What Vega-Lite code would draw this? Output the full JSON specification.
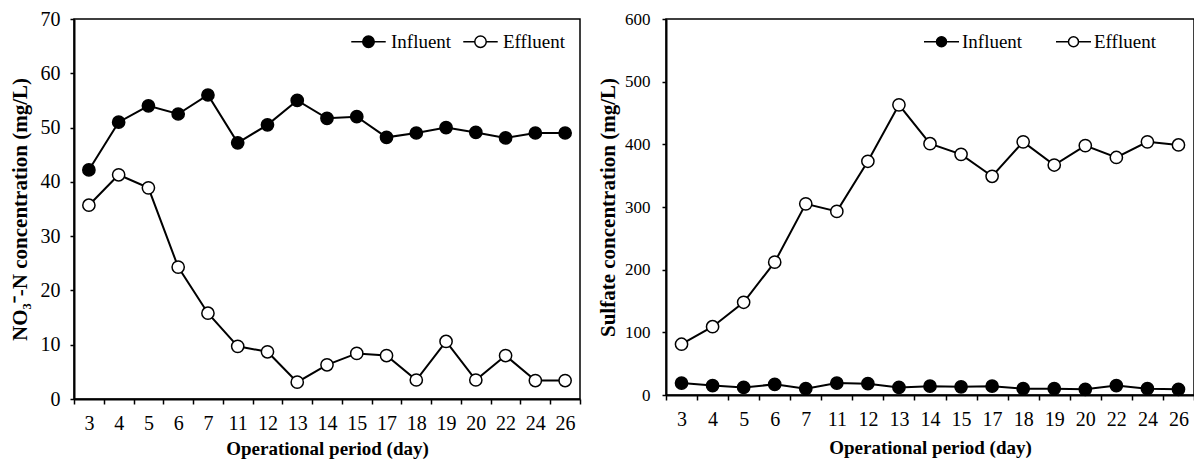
{
  "$schema": "https://vega.github.io/schema/vega-lite/v6.json",
  "padding": {"left": 8, "top": 8, "right": 2, "bottom": 2},
  "background": "white",
  "datasets": {
    "nitrate": [
      {"day": 3, "type": "Influent", "value": 42.2}, {"day": 4, "type": "Influent", "value": 51.0},
      {"day": 5, "type": "Influent", "value": 54.0}, {"day": 6, "type": "Influent", "value": 52.5},
      {"day": 7, "type": "Influent", "value": 56.0}, {"day": 11, "type": "Influent", "value": 47.2},
      {"day": 12, "type": "Influent", "value": 50.5}, {"day": 13, "type": "Influent", "value": 55.0},
      {"day": 14, "type": "Influent", "value": 51.7}, {"day": 15, "type": "Influent", "value": 52.0},
      {"day": 17, "type": "Influent", "value": 48.2}, {"day": 18, "type": "Influent", "value": 49.0},
      {"day": 19, "type": "Influent", "value": 50.0}, {"day": 20, "type": "Influent", "value": 49.1},
      {"day": 22, "type": "Influent", "value": 48.1}, {"day": 24, "type": "Influent", "value": 49.0},
      {"day": 26, "type": "Influent", "value": 49.0},
      {"day": 3, "type": "Effluent", "value": 35.7}, {"day": 4, "type": "Effluent", "value": 41.3},
      {"day": 5, "type": "Effluent", "value": 38.9}, {"day": 6, "type": "Effluent", "value": 24.3},
      {"day": 7, "type": "Effluent", "value": 15.8}, {"day": 11, "type": "Effluent", "value": 9.7},
      {"day": 12, "type": "Effluent", "value": 8.7}, {"day": 13, "type": "Effluent", "value": 3.1},
      {"day": 14, "type": "Effluent", "value": 6.3}, {"day": 15, "type": "Effluent", "value": 8.4},
      {"day": 17, "type": "Effluent", "value": 8.0}, {"day": 18, "type": "Effluent", "value": 3.5},
      {"day": 19, "type": "Effluent", "value": 10.6}, {"day": 20, "type": "Effluent", "value": 3.5},
      {"day": 22, "type": "Effluent", "value": 8.0}, {"day": 24, "type": "Effluent", "value": 3.4},
      {"day": 26, "type": "Effluent", "value": 3.4}
    ],
    "sulfate": [
      {"day": 3, "type": "Influent", "value": 19}, {"day": 4, "type": "Influent", "value": 15},
      {"day": 5, "type": "Influent", "value": 12}, {"day": 6, "type": "Influent", "value": 17},
      {"day": 7, "type": "Influent", "value": 10}, {"day": 11, "type": "Influent", "value": 19},
      {"day": 12, "type": "Influent", "value": 18}, {"day": 13, "type": "Influent", "value": 12},
      {"day": 14, "type": "Influent", "value": 14}, {"day": 15, "type": "Influent", "value": 13},
      {"day": 17, "type": "Influent", "value": 14}, {"day": 18, "type": "Influent", "value": 10},
      {"day": 19, "type": "Influent", "value": 10}, {"day": 20, "type": "Influent", "value": 9},
      {"day": 22, "type": "Influent", "value": 15}, {"day": 24, "type": "Influent", "value": 10},
      {"day": 26, "type": "Influent", "value": 9},
      {"day": 3, "type": "Effluent", "value": 81}, {"day": 4, "type": "Effluent", "value": 109},
      {"day": 5, "type": "Effluent", "value": 148}, {"day": 6, "type": "Effluent", "value": 212},
      {"day": 7, "type": "Effluent", "value": 305}, {"day": 11, "type": "Effluent", "value": 293},
      {"day": 12, "type": "Effluent", "value": 373}, {"day": 13, "type": "Effluent", "value": 463},
      {"day": 14, "type": "Effluent", "value": 401}, {"day": 15, "type": "Effluent", "value": 384},
      {"day": 17, "type": "Effluent", "value": 349}, {"day": 18, "type": "Effluent", "value": 404},
      {"day": 19, "type": "Effluent", "value": 367}, {"day": 20, "type": "Effluent", "value": 398},
      {"day": 22, "type": "Effluent", "value": 379}, {"day": 24, "type": "Effluent", "value": 404},
      {"day": 26, "type": "Effluent", "value": 399}
    ]
  },
  "spacing": 14,
  "hconcat": [
    {
      "width": 506,
      "height": 380,
      "data": {"name": "nitrate"},
      "encoding": {
        "x": {
          "field": "day", "type": "ordinal",
          "scale": {"paddingInner": 0, "paddingOuter": 0},
          "axis": {"title": "Operational period (day)", "labelAngle": 0, "tickBand": "extent", "labelFontSize": 20, "titleFontSize": 19, "labelPadding": 9, "titlePadding": 6, "tickSize": 5}
        },
        "y": {
          "field": "value", "type": "quantitative",
          "scale": {"domain": [0, 70], "nice": false},
          "axis": {"title": "NO₃⁻-N concentration (mg/L)", "values": [0, 10, 20, 30, 40, 50, 60, 70], "labelFontSize": 20, "titleFontSize": 21, "titlePadding": 10, "tickSize": 4, "labelPadding": 10}
        }
      },
      "layer": [
        {"mark": {"type": "line", "color": "black", "strokeWidth": 2}, "encoding": {"detail": {"field": "type"}}},
        {
          "mark": {"type": "point", "shape": "circle", "size": 150, "stroke": "black", "strokeWidth": 1.5, "opacity": 1, "filled": false},
          "encoding": {
            "fill": {
              "field": "type", "type": "nominal",
              "scale": {"domain": ["Influent", "Effluent"], "range": ["black", "white"]},
              "legend": {
                "title": null, "orient": "none", "legendX": 285, "legendY": 13, "direction": "horizontal",
                "symbolType": "M-3 0L-1 0M1 0L3 0M-1 0A1 1 0 1 1 1 0A1 1 0 1 1 -1 0Z",
                "symbolSize": 132, "symbolStrokeColor": "black", "symbolStrokeWidth": 1.5,
                "labelFontSize": 19, "labelOffset": 13, "columnPadding": 8
              }
            }
          }
        }
      ]
    },
    {
      "width": 528,
      "height": 376,
      "data": {"name": "sulfate"},
      "encoding": {
        "x": {
          "field": "day", "type": "ordinal",
          "scale": {"paddingInner": 0, "paddingOuter": 0},
          "axis": {"title": "Operational period (day)", "labelAngle": 0, "tickBand": "extent", "labelFontSize": 20, "titleFontSize": 19, "labelPadding": 9, "titlePadding": 9, "tickSize": 5}
        },
        "y": {
          "field": "value", "type": "quantitative",
          "scale": {"domain": [0, 600], "nice": false},
          "axis": {"title": "Sulfate concentration (mg/L)", "values": [0, 100, 200, 300, 400, 500, 600], "labelFontSize": 17, "titleFontSize": 21, "titlePadding": 6, "tickSize": 4, "labelPadding": 12}
        }
      },
      "layer": [
        {"mark": {"type": "line", "color": "black", "strokeWidth": 2}, "encoding": {"detail": {"field": "type"}}},
        {
          "mark": {"type": "point", "shape": "circle", "size": 150, "stroke": "black", "strokeWidth": 1.5, "opacity": 1, "filled": false},
          "encoding": {
            "fill": {
              "field": "type", "type": "nominal",
              "scale": {"domain": ["Influent", "Effluent"], "range": ["black", "white"]},
              "legend": {
                "title": null, "orient": "none", "legendX": 266, "legendY": 13, "direction": "horizontal",
                "symbolType": "M-3.5 0L-1 0M1 0L3.5 0M-1 0A1 1 0 1 1 1 0A1 1 0 1 1 -1 0Z",
                "symbolSize": 100, "symbolStrokeColor": "black", "symbolStrokeWidth": 1.5,
                "labelFontSize": 19, "labelOffset": 11, "columnPadding": 30
              }
            }
          }
        }
      ]
    }
  ],
  "resolve": {"scale": {"fill": "independent"}, "legend": {"fill": "independent"}},
  "config": {
    "font": "Liberation Serif",
    "view": {"stroke": "black", "strokeWidth": 1.5},
    "axis": {
      "domainColor": "black", "domainWidth": 2, "tickColor": "black", "tickWidth": 1.5,
      "labelColor": "black", "labelFont": "Liberation Serif", "titleFont": "Liberation Serif",
      "titleColor": "black", "titleFontWeight": "bold", "grid": false
    },
    "legend": {"labelFont": "Liberation Serif", "labelColor": "black", "padding": 0}
  }
}
